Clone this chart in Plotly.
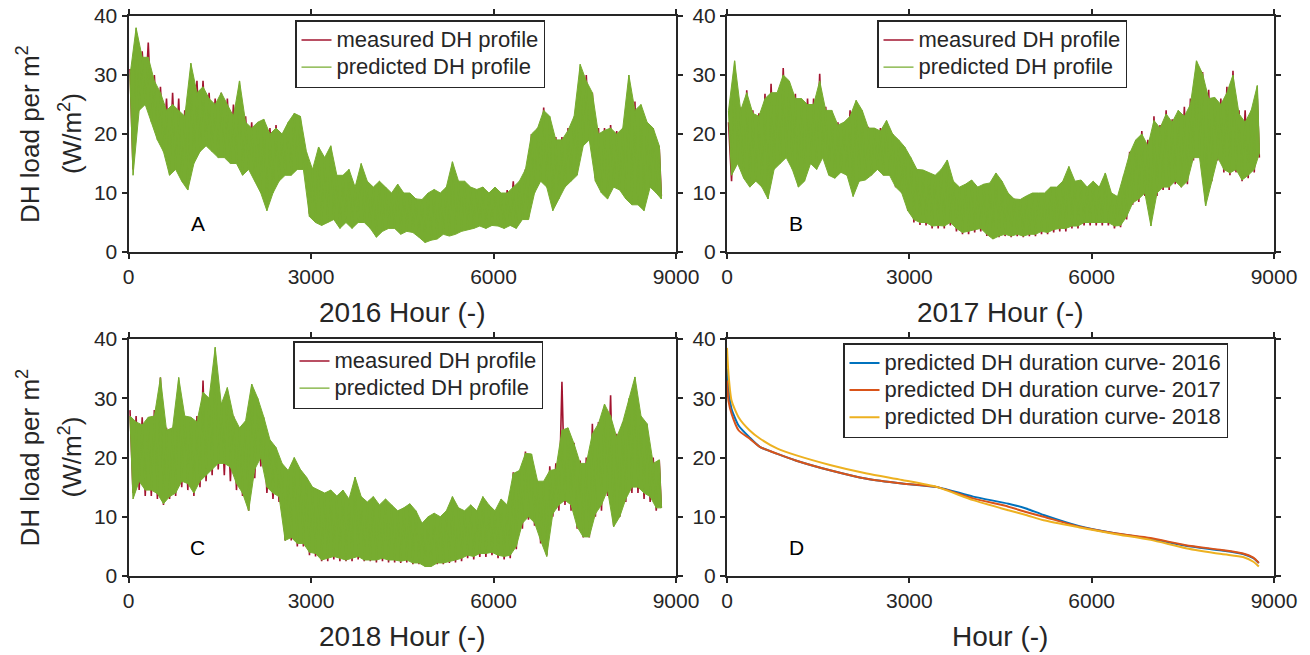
import plotly.graph_objects as go

FONT = "Liberation Sans, Arial, sans-serif"
TXT = "#262626"
RED = "#A2142F"
GREEN = "#77AC30"
D_COLORS = ["#0072BD", "#D95319", "#EDB120"]

BIN = 100          # hours per envelope bin (bins start at 0, 100, ..., 8700)
LAST_HOUR = 8759

# ---------------- Panel A (2016): envelope read per 100 h bin ----------------
A_pred_hi = [30, 38, 33, 33, 29, 27, 24, 25, 24, 23,
             32, 27, 28, 26, 25, 27, 25, 23, 29, 22,
             21, 22, 22.5, 20, 21, 20, 22, 23.5, 23, 17,
             14, 17.8, 16, 18, 13, 13, 14, 11, 15, 12,
             11, 12, 11, 10, 11.5, 10, 10, 9, 8.9, 10,
             10.6, 10, 11, 15.3, 12, 12, 11, 10.6, 11, 10,
             11, 10, 10, 11, 12, 14, 20, 21, 24, 23,
             19, 19, 20.6, 23, 31.8, 29, 27, 20, 20.6, 21,
             20, 21, 30, 24, 25, 22, 21, 18]
A_pred_lo = [13, 24, 25, 22, 19, 17, 13, 14, 12, 10.5,
             15, 17, 18, 17, 16, 16, 15, 15, 13, 14,
             12, 10, 7, 10, 12, 13, 13, 14, 14, 6,
             5, 4.5, 5, 5.5, 4, 5, 4, 5, 5, 4,
             2.5, 3.5, 4, 4, 3, 3.5, 3.3, 2.5, 1.6, 2,
             2.2, 3, 2.7, 3, 3.5, 3.8, 4, 4.4, 4, 4.5,
             4.4, 4, 4.5, 4, 5.5, 5.5, 10, 12, 11, 7,
             9, 11, 12, 13, 18, 19, 12, 10, 9, 11,
             10.5, 9, 8, 8, 7, 11, 10, 9]
A_meas_hi = [31, 35, 34, 35.5, 30, 28, 26, 27, 26, 24,
             30, 29, 29, 27, 26, 27, 26, 25, 27, 23,
             22, 21, 21, 21, 21.5, 20, 21, 23, 22, 16,
             13, 16, 15, 16, 12, 12, 13, 11, 13, 11,
             10, 11, 10, 9.5, 10.5, 10, 9.5, 9, 8.5, 9.5,
             10, 10, 10.5, 14, 11.5, 11, 10.5, 10, 11, 10,
             10.5, 10, 10.5, 12, 11, 14, 20, 21, 24.5, 22,
             19.5, 19.5, 21, 22, 31, 30, 27, 21, 21, 21.5,
             20.5, 21, 26, 25.5, 22.5, 21, 21, 17.5]
A_meas_lo = [14, 24.5, 25.5, 23, 20, 18, 14, 15, 13, 11.5,
             16, 18, 18.5, 17.5, 16.5, 16.5, 15.5, 15.5, 14, 14.5,
             12.5, 10.5, 8, 10.5, 12.5, 13.5, 13.5, 14.5, 14.5, 6.5,
             5.5, 5, 5.5, 6, 4.5, 5.5, 4.5, 5.5, 5.5, 4.5,
             3, 4, 4.5, 4.5, 3.5, 4, 3.8, 3, 2, 2.5,
             2.7, 3.5, 3.2, 3.5, 4, 4.3, 4.5, 5, 4.5, 5,
             5, 4.5, 5, 4.5, 6, 6, 10.5, 12.5, 11.5, 7.5,
             9.5, 11.5, 12.5, 13.5, 18.5, 19.5, 12.5, 10.5, 9.5, 11.5,
             11, 9.5, 8.5, 8.5, 7.5, 11.5, 10.5, 9.5]

# ---------------- Panel B (2017) ----------------
B_pred_hi = [24, 32.4, 24, 27, 23.5, 23, 26, 27, 27, 30,
             29, 26, 26, 25, 25, 29, 24, 24, 21.5, 22,
             23, 25.7, 24, 21, 21, 20.5, 22.3, 20, 19, 17.8,
             16, 14, 13.9, 13.4, 13, 14, 15.6, 12, 11, 11.5,
             12.2, 11, 11.5, 11.7, 13.4, 12, 10, 9, 8.9, 9.5,
             10, 10, 10, 11, 11, 12, 14.5, 12, 12.2, 11,
             12, 11, 13.4, 10, 9.4, 13, 16.7, 19, 20, 18,
             22.3, 21, 23.4, 22, 24, 23, 25, 32.4, 30.2, 26,
             26.2, 25, 27, 30, 23.4, 22, 24, 28.2]
B_pred_lo = [13, 15, 12.5, 11, 12, 11, 9, 14, 15, 16,
             14, 11, 12, 15, 14, 16, 13, 12.5, 13.5, 13,
             9.4, 12, 12.2, 13, 14, 13, 13, 11, 10, 7,
             5.5, 5, 5, 4.4, 4.5, 4.4, 5, 4, 3.3, 3.5,
             3.8, 4, 3, 2.2, 2.7, 3, 2.7, 3, 2.7, 3,
             3, 3.5, 3.3, 3.8, 4, 4, 4.4, 4.4, 5, 5,
             5, 5, 5, 4.4, 4.5, 6, 8.3, 9, 10, 4.4,
             10, 11, 11, 12, 11, 12, 16, 16, 7.8, 12,
             16, 14, 13.4, 14, 12.2, 13, 14, 16.7]
B_meas_hi = [22, 27, 24.5, 27.4, 24, 23.5, 26.8, 28.5, 26, 31.2,
             28, 26.8, 25, 26, 26, 30.2, 24.6, 23, 22, 22,
             24, 25, 23, 21.2, 21, 21, 21.5, 20, 18.5, 17.5,
             15, 13.5, 13, 13, 12.5, 13, 15, 11.5, 10.5, 11,
             12, 10.5, 11, 11, 13, 11.5, 9.5, 9, 8.5, 9,
             9.5, 9.5, 9.5, 10.5, 10.5, 11.5, 14, 11.5, 12, 10.5,
             11.5, 10.5, 12.5, 10, 9, 12.5, 17, 18.5, 20.5, 19,
             23, 21.5, 24, 22.5, 23.5, 24.6, 26, 30.5, 30.5, 27.5,
             26, 26, 28, 30.7, 24, 24, 23, 26]
B_meas_lo = [12, 15.5, 13, 11.5, 12.5, 11.5, 9.5, 14.5, 15.5, 16.5,
             14.5, 11.5, 12.5, 15, 14.5, 16.5, 13.5, 13, 13.5, 13,
             10, 12, 12.5, 13, 14, 13, 13, 11, 10, 7,
             5, 4.6, 4.5, 4, 4, 4, 4.5, 3.5, 3, 3,
             3.3, 3.5, 2.7, 2.2, 2.5, 2.7, 2.5, 2.7, 2.5, 2.7,
             2.7, 3, 3, 3.3, 3.5, 3.5, 4, 4, 4.5, 4.5,
             4.5, 4.5, 4.5, 4, 4.2, 5.5, 8, 8.5, 9.5, 5,
             9.5, 10.5, 10.5, 11.5, 11, 11.5, 15.5, 16, 8.5, 12,
             15.5, 13.5, 13, 13.5, 12, 12.5, 13.5, 16]

# ---------------- Panel C (2018) ----------------
C_pred_hi = [27, 26, 25.5, 26.8, 27, 33.5, 24.6, 25, 33.5, 27,
             26.8, 26, 31, 30, 38.6, 29, 31.8, 27, 25, 26.2,
             32.4, 30, 26.8, 23, 21.7, 19, 17.8, 20, 18, 16.7,
             15, 14.5, 14, 14.5, 13.5, 14.5, 13, 16.7, 13.4, 12.5,
             13.4, 12, 13, 12, 11, 11.5, 12.2, 11, 8.9, 10,
             10.6, 10, 11, 13.4, 11.5, 11, 12, 11, 13.4, 12,
             11, 13, 12, 17.3, 17.8, 20.7, 20.6, 16, 16, 17.8,
             18, 24.6, 25, 22.3, 19, 19, 24, 25.7, 29, 27,
             23.4, 26, 30, 33.6, 27, 25.7, 19, 19.6]
C_pred_lo = [13, 16, 14.5, 14.5, 13.9, 12.2, 13.4, 14, 16, 15.6,
             14, 16, 17, 18, 19, 19, 18.4, 15.6, 14, 11,
             18, 20, 15, 14, 13.4, 6, 6.5, 5.5, 5.5, 4,
             3.8, 2.7, 3, 3.3, 3, 2.7, 3, 3.3, 2.7, 2.7,
             2.7, 3, 2.7, 2.7, 2.5, 2.7, 2.2, 2.2, 1.6, 1.6,
             2.2, 2.2, 2.5, 2.7, 3, 3.5, 3.3, 3.8, 3.8, 4,
             3.5, 3.3, 3.5, 5, 8.9, 10, 9, 6, 3.3, 10.5,
             12, 12.8, 12, 8.3, 6.6, 6.6, 10.5, 12, 14.5, 8.3,
             10, 13, 15, 15, 14, 13.4, 11.5, 11.5]
C_meas_hi = [28, 27, 26.8, 26, 28, 33.5, 25, 25, 32, 27,
             26, 27, 33, 29, 34, 29, 29, 27, 24, 25,
             30, 29, 26, 22, 21, 18.5, 17, 19.5, 17.5, 16,
             14.5, 14, 13.5, 14, 13, 14, 12.5, 16, 13, 12,
             13, 11.5, 12.5, 11.5, 10.5, 11, 11.5, 10.5, 8.5, 9.5,
             10, 9.5, 10.5, 13, 11, 10.5, 11.5, 10.5, 13, 11.5,
             10.5, 12.5, 11.5, 17.5, 17, 21, 20, 16, 15.5, 18.5,
             19, 32.8, 24, 22.5, 19.5, 20, 25.7, 26, 28, 30.5,
             24, 26, 28, 30, 26, 24, 20, 19.5]
C_meas_lo = [14, 14.5, 13.5, 13.5, 13, 12, 13, 13.5, 15, 14.5,
             13.5, 15, 16, 17, 18, 17, 16, 14.5, 13.5, 11,
             16.5, 18.5, 14, 13, 12.5, 6, 6, 5, 5, 3.5,
             3.3, 2.5, 2.5, 2.8, 2.5, 2.5, 2.5, 2.8, 2.5, 2.5,
             2.3, 2.5, 2.3, 2.3, 2.2, 2.3, 2, 2, 1.8, 1.8,
             2, 2, 2.2, 2.3, 2.5, 3, 2.8, 3.2, 3.2, 3.5,
             3, 2.8, 3, 4.5, 8, 9.5, 8.5, 5.5, 3.5, 10,
             11, 12, 11, 8, 6.5, 6.5, 10, 11, 13.5, 8.5,
             10, 12.5, 14, 14, 13, 12.5, 11, 11.5]

# ---------------- Panel D: duration curves ----------------
D_hours = [0, 25, 75, 190, 370, 540, 830, 1130, 1710, 2300, 2880, 3460,
           4050, 4630, 4920, 5210, 5800, 6380, 6970, 7550, 8140, 8490, 8660, 8750]
D_2016 = [35, 31.5, 28.2, 25.4, 23.4, 21.8, 20.6, 19.5, 17.8, 16.4, 15.6, 15,
          13.4, 12.2, 11.4, 10.3, 8.4, 7.2, 6.3, 5.1, 4.3, 3.7, 3.0, 2.2]
D_2017 = [33, 29.5, 27.4, 24.6, 23.2, 21.8, 20.6, 19.5, 17.8, 16.4, 15.6, 15,
          13.1, 11.7, 10.8, 10.0, 8.3, 7.2, 6.4, 5.2, 4.4, 3.8, 3.1, 2.2]
D_2018 = [38.5, 34, 29.6, 26.8, 24.6, 23.2, 21.5, 20.4, 18.7, 17.3, 16.2, 15,
          12.8, 11.1, 10.3, 9.4, 8.2, 7.1, 6.1, 4.7, 3.7, 3.2, 2.4, 1.6]

X_TICKS = [0, 3000, 6000, 9000]
Y_TICKS = [0, 10, 20, 30, 40]
YEARS = ["2016", "2017", "2018"]
PANEL_LABELS = ["A", "B", "C", "D"]


def bin_x(k, frac):
    return min(k * BIN + BIN * frac, LAST_HOUR)


def zigzag(hi, lo):
    xs, ys = [], []
    for k, (h, l) in enumerate(zip(hi, lo)):
        xs += [bin_x(k, 0.25), bin_x(k, 0.75)]
        ys += [h, l]
    return xs, ys


def band(hi, lo):
    xs = [bin_x(k, 0.25) for k in range(len(hi))]
    xl = [bin_x(k, 0.75) for k in range(len(lo))]
    return xs + xl[::-1], list(hi) + list(lo)[::-1]


def leg_name(s):
    return f'<span style="font-size:22px">{s}</span>'


W, H = 1310, 655
boxes = [(128.5, 676, 16, 252), (727, 1274, 16, 252),
         (128.5, 676, 339, 576), (727, 1274, 339, 576)]

fig = go.Figure()

profiles = [(A_meas_hi, A_meas_lo, A_pred_hi, A_pred_lo),
            (B_meas_hi, B_meas_lo, B_pred_hi, B_pred_lo),
            (C_meas_hi, C_meas_lo, C_pred_hi, C_pred_lo)]
for i, (mh, ml, ph, pl) in enumerate(profiles):
    xa = "x" if i == 0 else f"x{i+1}"
    ya = "y" if i == 0 else f"y{i+1}"
    lg = "legend" if i == 0 else f"legend{i+1}"
    # measured: hourly swing drawn as a thin zig-zag underneath
    zx, zy = zigzag(mh, ml)
    fig.add_trace(go.Scatter(x=zx, y=zy, mode="lines", name=leg_name("measured DH profile"),
                             line=dict(color=RED, width=1.6), xaxis=xa, yaxis=ya, legend=lg,
                             hoverinfo="skip"))
    # predicted: envelope band on top
    bx, by = band(ph, pl)
    fig.add_trace(go.Scatter(x=bx, y=by, mode="lines", fill="toself", fillcolor=GREEN,
                             line=dict(color=GREEN, width=1), showlegend=False,
                             hoverinfo="skip", xaxis=xa, yaxis=ya))
    zx, zy = zigzag(ph, pl)
    fig.add_trace(go.Scatter(x=zx, y=zy, mode="lines", name=leg_name("predicted DH profile"),
                             line=dict(color=GREEN, width=1.3), xaxis=xa, yaxis=ya, legend=lg,
                             hoverinfo="skip"))

for yr, vals, col in zip(YEARS, [D_2016, D_2017, D_2018], D_COLORS):
    fig.add_trace(go.Scatter(x=D_hours, y=vals, mode="lines",
                             name=leg_name(f"predicted DH duration curve- {yr}"),
                             line=dict(color=col, width=2, shape="spline", smoothing=0.6),
                             xaxis="x4", yaxis="y4", legend="legend4"))

layout = dict(width=W, height=H, margin=dict(l=0, r=0, t=0, b=0, autoexpand=False),
              paper_bgcolor="white", plot_bgcolor="white", showlegend=True,
              font=dict(family=FONT, color=TXT))

common = dict(showline=True, linecolor=TXT, linewidth=2, mirror="ticks",
              ticks="outside", ticklen=5, tickwidth=2, tickcolor=TXT,
              tickfont=dict(size=21, family=FONT, color=TXT),
              showgrid=False, zeroline=False, fixedrange=True, automargin=False)

for i, (l, r, t, b) in enumerate(boxes):
    sx = "" if i == 0 else str(i + 1)
    layout[f"xaxis{sx}"] = dict(common, domain=[l / W, r / W], anchor=f"y{sx}",
                                range=[0, 9000], tickvals=X_TICKS)
    layout[f"yaxis{sx}"] = dict(common, domain=[1 - b / H, 1 - t / H], anchor=f"x{sx}",
                                range=[0, 40], tickvals=Y_TICKS)

leg_common = dict(xanchor="left", yanchor="top", bgcolor="white",
                  bordercolor=TXT, borderwidth=1.5, itemwidth=30, tracegroupgap=0,
                  font=dict(size=18.5, family=FONT, color=TXT))
legend_pos = [(295, 20), (877, 20), (293, 341), (843, 343)]
for i, (lx, ly) in enumerate(legend_pos):
    key = "legend" if i == 0 else f"legend{i+1}"
    layout[key] = dict(leg_common, x=lx / W, y=1 - ly / H)

ann = []
xt_texts = ["2016 Hour (-)", "2017 Hour (-)", "2018 Hour (-)", "Hour (-)"]
for i, (l, r, t, b) in enumerate(boxes):
    ann.append(dict(text=xt_texts[i], x=(l + r) / 2 / W, y=1 - (b + 60) / H,
                    xref="paper", yref="paper", xanchor="center", yanchor="middle",
                    showarrow=False, font=dict(size=28, family=FONT, color=TXT)))
    sx = "" if i == 0 else str(i + 1)
    ann.append(dict(text=PANEL_LABELS[i], x=1140, y=4.8, xref=f"x{sx}", yref=f"y{sx}",
                    showarrow=False, font=dict(size=21, family=FONT, color="black")))
for (l, r, t, b) in [boxes[0], boxes[2]]:
    yc = 1 - (t + b) / 2 / H
    ann.append(dict(text="DH load per m<sup>2</sup>", x=29 / W, y=yc, textangle=-90,
                    xref="paper", yref="paper", xanchor="center", yanchor="middle",
                    showarrow=False, font=dict(size=26, family=FONT, color=TXT)))
    ann.append(dict(text="(W/m<sup>2</sup>)", x=71 / W, y=yc, textangle=-90,
                    xref="paper", yref="paper", xanchor="center", yanchor="middle",
                    showarrow=False, font=dict(size=26, family=FONT, color=TXT)))
layout["annotations"] = ann

fig.update_layout(**layout)
fig.write_html("out.html", config={"displayModeBar": False},
               post_script="document.body.style.margin='0';document.body.style.overflow='hidden';")
